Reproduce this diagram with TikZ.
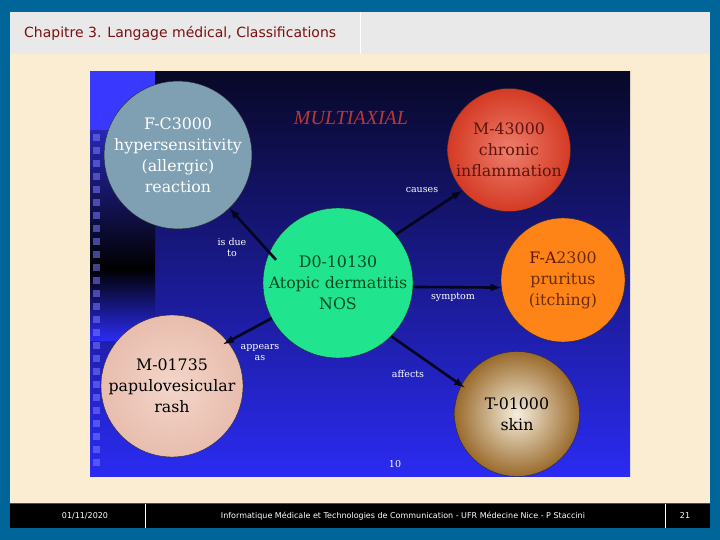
\documentclass[tikz,border=0pt]{standalone}
\usepackage{fontspec}
\setmainfont{DejaVu Serif}
\newfontfamily\slidefont{DejaVu Sans}
\newfontfamily\titlefont{Liberation Serif}
\usetikzlibrary{positioning}

\definecolor{frameblue}{HTML}{00669A}
\definecolor{headgray}{HTML}{E9E9E9}
\definecolor{titlered}{HTML}{7A1010}
\definecolor{parchment}{HTML}{FAEDD2}
\definecolor{skytop}{HTML}{080828}
\definecolor{skymid}{HTML}{1C1CB0}
\definecolor{skybot}{HTML}{2B2BF2}
\definecolor{stripblue}{HTML}{3838FF}
\definecolor{tileblue}{HTML}{7A7AFF}
\definecolor{arrowink}{HTML}{05051E}
\definecolor{greyblue}{HTML}{7F9FB2}
\definecolor{redout}{HTML}{D43A24}
\definecolor{redin}{HTML}{EE7E6C}
\definecolor{mint}{HTML}{20E48E}
\definecolor{orangefill}{HTML}{FF8418}
\definecolor{pinkout}{HTML}{E8BDAD}
\definecolor{pinkin}{HTML}{F3D6CA}
\definecolor{brownout}{HTML}{9A6A2C}
\definecolor{brownin}{HTML}{F6EEDC}
\definecolor{maroon}{HTML}{5E140C}
\definecolor{darkgreen}{HTML}{004A22}
\definecolor{rust}{HTML}{6A2C0C}
\definecolor{multired}{HTML}{B83838}

\begin{document}
\begin{tikzpicture}[x=1pt, y=-1pt, >=latex]
        % Stili
        \tikzstyle{disc} = [draw=black!85, circle, align=center, inner sep=0pt, font=\fontsize{15.8}{21}\selectfont]
        \tikzstyle{rel} = [->, line width=2.6pt, draw=arrowink]
        \tikzstyle{lbl} = [text=white, align=center, inner sep=0pt, font=\fontsize{9.5}{11}\selectfont]
        \tikzstyle{foot} = [text=white, inner sep=0pt, font=\slidefont\fontsize{8}{9}\selectfont]

        % Cornice della diapositiva
        \fill[frameblue] (0,0) rectangle (720,540);
        \fill[headgray] (10,12) rectangle (710,54);
        \draw[white, line width=1pt] (360,12) -- (360,54);
        \fill[parchment] (10,54) rectangle (710,503);
        \fill[black] (10,504) rectangle (710,528);
        \draw[white, line width=0.8pt] (145,504) -- (145,528);
        \draw[white, line width=0.8pt] (665,504) -- (665,528);

        \node [anchor=west, text=titlered, inner sep=0pt, font=\slidefont\fontsize{14}{15}\selectfont] (title) at (24,33) {Chapitre 3. Langage médical, Classifications};
        \node [foot] (date) at (85,516) {01/11/2020};
        \node [foot] (course) at (403,516) {Informatique Médicale et Technologies de Communication - UFR Médecine Nice - P Staccini};
        \node [foot] (page) at (685,516) {21};

        % Sfondo dell'immagine
        \begin{scope}
            \clip (90,72) rectangle (630,476);
            \shade[top color=skytop, middle color=skymid, bottom color=skybot] (90,72) rectangle (630,476);
            \shade[top color=stripblue, bottom color=black] (90,72) rectangle (155,269);
            \fill[stripblue] (90,72) rectangle (155,130);
            \shade[top color=black, bottom color=skybot] (90,269) rectangle (155,340);
            \foreach \ty in {134,147,...,466}
                \fill[tileblue, opacity=0.55] (93,\ty) rectangle (100,\ty+7);

            % Cerchi
            \node [disc, fill=greyblue, minimum size=140pt, text=white] (allergy) at (178,155) {F-C3000\\hypersensitivity\\(allergic)\\reaction};
            \node [disc, shading=radial, inner color=redin, outer color=redout, minimum size=123pt, text=maroon] (chronic) at (509,150) {M-43000\\chronic\\inflammation};
            \node [disc, fill=mint, minimum size=150pt, text=darkgreen] (atopic) at (338,283) {D0-10130\\Atopic dermatitis\\NOS};
            \node [disc, fill=orangefill, minimum size=124pt, text=rust] (pruritus) at (563,280) {\textcolor{maroon}{F-A}2300\\pruritus\\(itching)};
            \node [disc, shading=radial, inner color=pinkin, outer color=pinkout, minimum size=142pt, text=black] (rash) at (172,386) {M-01735\\papulovesicular\\rash};
            \node [disc, shading=radial, inner color=brownin, outer color=brownout, minimum size=125pt, text=black] (skin) at (517,414) {T-01000\\skin};

            % Titolo e etichette
            \node [text=multired, inner sep=0pt, font=\titlefont\itshape\fontsize{20}{21}\selectfont] (axis) at (351,118) {MULTIAXIAL};
            \node [lbl] (causeslbl) at (422,190) {causes};
            \node [lbl] (duelbl) at (232,247) {is due\\to};
            \node [lbl] (symptomlbl) at (453,297) {symptom};
            \node [lbl] (appearslbl) at (260,353) {appears\\as};
            \node [lbl] (affectslbl) at (408,374) {affects};
            \node [lbl] (slidenum) at (395,464) {10};

            % Collegamenti
            \draw [rel, shorten <=-10pt] (atopic.156) -- (allergy.-46);
            \draw [rel] (atopic.40) -- (chronic.221);
            \draw [rel] (atopic.-3) -- (pruritus.187);
            \draw [rel] (atopic.208) -- ([shift={(-4pt,-3pt)}]rash.39);
            \draw [rel] (atopic.-45) -- ([shift={(3pt,-3pt)}]skin.152);
        \end{scope}
\end{tikzpicture}
\end{document}
